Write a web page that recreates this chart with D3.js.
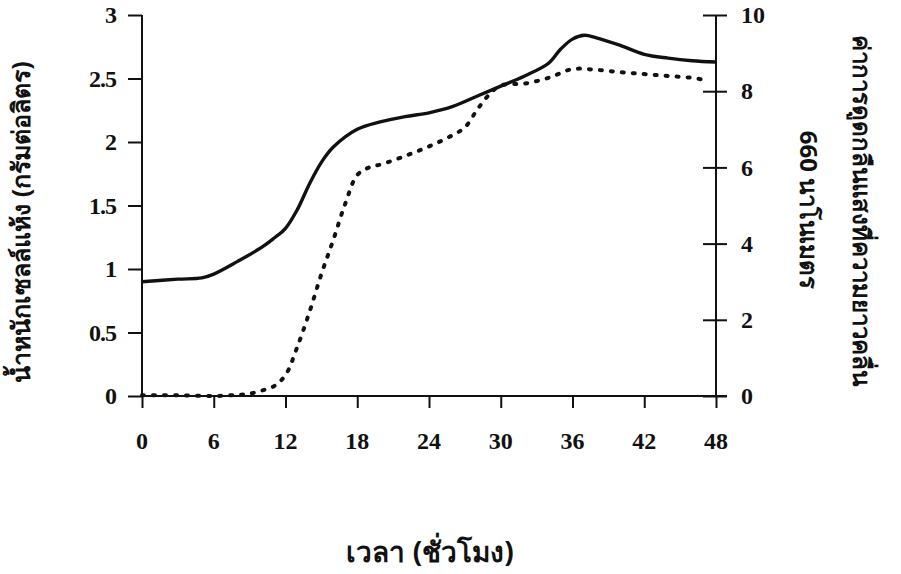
<!DOCTYPE html>
<html>
<head>
<meta charset="utf-8">
<script src="https://cdnjs.cloudflare.com/ajax/libs/d3/7.8.5/d3.min.js"></script>
<style>
  body { margin: 0; background: #fff; }
  svg text { font-family: "Liberation Serif", "DejaVu Serif", serif; font-weight: bold; fill: #111; }
  .thai { font-family: "Noto Sans", "DejaVu Sans", sans-serif; font-weight: bold; }
</style>
</head>
<body>
<svg id="chart" width="901" height="574"></svg>
<script>
// time (h) and dry cell weight (g/L), solid line
const hours = [0, 3, 5, 6, 8, 10, 11, 12, 13, 14, 15, 16, 18, 20, 22, 24, 26, 28, 30, 32, 34, 35, 36, 37, 38, 40, 42, 44, 46, 48];
const dryWeight = [0.90, 0.92, 0.93, 0.96, 1.06, 1.17, 1.24, 1.32, 1.47, 1.67, 1.84, 1.96, 2.10, 2.16, 2.20, 2.23, 2.28, 2.36, 2.44, 2.52, 2.62, 2.73, 2.81, 2.84, 2.82, 2.76, 2.69, 2.66, 2.64, 2.63];

// time (h) and OD 660 nm, dotted line
const odHours = [0, 3, 6, 8, 9, 10, 11, 12, 13, 14, 15, 16, 17, 18, 19, 20, 22, 24, 26, 27, 28, 29, 30, 32, 34, 36, 38, 40, 42, 44, 46, 47];
const odValues = [0.02, 0.02, 0.0, 0.03, 0.06, 0.14, 0.25, 0.55, 1.3, 2.2, 3.2, 4.1, 5.05, 5.8, 6.0, 6.08, 6.3, 6.55, 6.85, 7.05, 7.5, 7.9, 8.15, 8.2, 8.35, 8.58, 8.56, 8.5, 8.45, 8.4, 8.35, 8.3];

const xTicks = [0, 6, 12, 18, 24, 30, 36, 42, 48];
const leftTicks = [0, 0.5, 1, 1.5, 2, 2.5, 3];
const rightTicks = [0, 2, 4, 6, 8, 10];

const xTitle = "เวลา (ชั่วโมง)";
const leftTitle = "น้ำหนักเซลล์แห้ง (กรัมต่อลิตร)";
const rightTitle = ["ค่าการดูดกลืนแสงที่ความยาวคลื่น", "660 นาโนเมตร"];

const svg = d3.select("#chart");

let x = d3.scaleLinear().domain([0, 48]).range([142, 716]);
let yL = d3.scaleLinear().domain([0, 3]).range([396, 15]);
let yR = d3.scaleLinear().domain([0, 10]).range([396, 15]);

// bottom axis: ticks only, labels placed further down
let xAxis = svg.append("g")
  .attr("transform", "translate(0,396)")
  .call(d3.axisBottom(x).tickValues(xTicks).tickSize(12).tickFormat(""));
xAxis.select(".domain").attr("d", "M142,0H727");

svg.append("g").selectAll(".xlab")
  .data(xTicks)
  .enter().append("text")
  .attr("class", "xlab")
  .attr("x", d => x(d))
  .attr("y", 449)
  .attr("text-anchor", "middle")
  .attr("font-size", "24px")
  .text(d => d);

// left axis
let leftAxis = svg.append("g")
  .attr("transform", "translate(142,0)")
  .call(d3.axisLeft(yL).tickValues(leftTicks).tickSize(14).tickPadding(12).tickFormat(d => d));
leftAxis.select(".domain").attr("d", "M0,15V396");
leftAxis.selectAll("text").attr("font-size", "24px").attr("letter-spacing", "-1px");

// right axis, ticks crossing the line
let rightAxis = svg.append("g")
  .attr("transform", "translate(716,0)")
  .call(d3.axisRight(yR).tickValues(rightTicks).tickSize(11).tickPadding(14));
rightAxis.select(".domain").attr("d", "M0,15V396");
rightAxis.selectAll(".tick line").attr("x1", -13);
rightAxis.selectAll("text").attr("font-size", "24px");

svg.selectAll(".domain, .tick line").attr("stroke", "#111").attr("stroke-width", 2);

// lines
let solid = d3.line()
  .x((d, i) => x(hours[i]))
  .y(d => yL(d))
  .curve(d3.curveCatmullRom);

svg.append("path")
  .datum(dryWeight)
  .attr("d", solid)
  .attr("fill", "none")
  .attr("stroke", "#111")
  .attr("stroke-width", 3.4);

let dotted = d3.line()
  .x((d, i) => x(odHours[i]))
  .y(d => yR(d))
  .curve(d3.curveCatmullRom);

svg.append("path")
  .datum(odValues)
  .attr("d", dotted)
  .attr("fill", "none")
  .attr("stroke", "#111")
  .attr("stroke-width", 4)
  .attr("stroke-linecap", "round")
  .attr("stroke-dasharray", "2,9");

// titles
svg.append("text")
  .attr("class", "thai")
  .attr("x", 430)
  .attr("y", 562)
  .attr("text-anchor", "middle")
  .attr("font-size", "28px")
  .text(xTitle);

svg.append("text")
  .attr("class", "thai")
  .attr("transform", "translate(30,222) rotate(-90)")
  .attr("text-anchor", "middle")
  .attr("font-size", "25px")
  .text(leftTitle);

svg.append("text")
  .attr("class", "thai")
  .attr("transform", "translate(853,210) rotate(90)")
  .attr("text-anchor", "middle")
  .attr("font-size", "24px")
  .text(rightTitle[0]);

svg.append("text")
  .attr("class", "thai")
  .attr("transform", "translate(800,210) rotate(90)")
  .attr("text-anchor", "middle")
  .attr("font-size", "24px")
  .text(rightTitle[1]);
</script>
</body>
</html>
